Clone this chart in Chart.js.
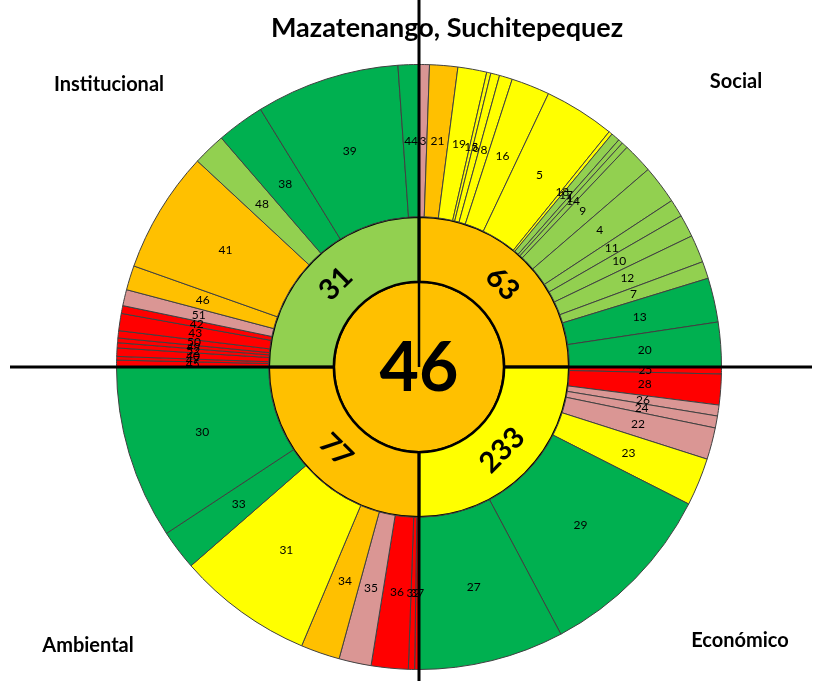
<!DOCTYPE html>
<html>
<head>
<meta charset="utf-8">
<script src="https://cdn.jsdelivr.net/npm/chart.js@4.4.1/dist/chart.umd.min.js"></script>
<style>
  html, body { margin: 0; padding: 0; background: #fff; }
  #wrap { width: 818px; height: 681px; position: relative; }
</style>
</head>
<body>
<div id="wrap"><canvas id="sunburst"></canvas></div>
<script>
// indicadores de cada dimension, en sentido horario desde arriba
const dimensions = ['Social', 'Económico', 'Ambiental', 'Institucional'];
const dimensionScores = [63, 233, 77, 31];
const dimensionLevels = ['naranja', 'amarillo', 'naranja', 'verdeClaro'];
const totalScore = 46;
const chartTitle = 'Mazatenango, Suchitepequez';

const socialIds    = [3, 21, 19, 15, 6, 8, 16, 5, 18, 17, 1, 14, 9, 4, 11, 10, 12, 7, 13, 20];
const socialValues = [2.0, 5.4, 5.55, 0.8, 1.7, 2.5, 7.4, 13.6, 0.7, 1.7, 0.9, 1.2, 5.8, 7.4, 3.4, 4.3, 5.3, 3.3, 8.5, 8.6];
const socialLevels = ['rosa', 'naranja', 'amarillo', 'amarillo', 'amarillo', 'amarillo', 'amarillo', 'amarillo', 'amarillo',
  'verdeClaro', 'verdeClaro', 'verdeClaro', 'verdeClaro', 'verdeClaro', 'verdeClaro', 'verdeClaro', 'verdeClaro', 'verdeClaro', 'verde', 'verde'];

const economicoIds    = [25, 28, 26, 24, 22, 23, 29, 27];
const economicoValues = [1.3, 5.9, 2.1, 2.3, 6.1, 9.2, 35.1, 28.0];
const economicoLevels = ['rojo', 'rojo', 'rosa', 'rosa', 'rosa', 'amarillo', 'verde', 'verde'];

const ambientalIds    = [37, 32, 36, 35, 34, 31, 33, 30];
const ambientalValues = [0.8, 1.2, 7.1, 6.2, 7.5, 26.1, 7.7, 33.4];
const ambientalLevels = ['rojo', 'rojo', 'rojo', 'rosa', 'naranja', 'amarillo', 'verde', 'verde'];

const institucionalIds    = [45, 47, 40, 52, 49, 50, 43, 42, 51, 46, 41, 48, 38, 39, 44];
const institucionalValues = [1.3, 0.7, 1.6, 1.0, 0.9, 1.4, 3.3, 1.5, 3.1, 4.7, 23.4, 6.3, 9.2, 27.6, 4.0];
const institucionalLevels = ['rojo', 'rojo', 'rojo', 'rojo', 'rojo', 'rojo', 'rojo', 'rojo', 'rosa', 'naranja', 'naranja',
  'verdeClaro', 'verde', 'verde', 'verde'];

const levelColors = {
  verde: '#00B050',
  verdeClaro: '#92D050',
  amarillo: '#FFFF00',
  naranja: '#FFC000',
  rosa: '#DA9694',
  rojo: '#FF0000'
};

const FONT = 'Lato, "Liberation Sans", sans-serif';

const groups = [
  [socialIds, socialValues, socialLevels],
  [economicoIds, economicoValues, economicoLevels],
  [ambientalIds, ambientalValues, ambientalLevels],
  [institucionalIds, institucionalValues, institucionalLevels]
];
const outerIds = groups.flatMap(g => g[0]);
const outerValues = groups.flatMap(g => g[1]);
const outerColors = groups.flatMap(g => g[2].map(l => levelColors[l]));
// cada dimension ocupa lo que suman sus indicadores
const innerValues = groups.map(g => g[1].reduce((a, b) => a + b, 0));

const labelsPlugin = {
  id: 'ringLabels',
  afterDatasetsDraw(chart) {
    const ctx = chart.ctx;
    const outer = chart.getDatasetMeta(0);
    const inner = chart.getDatasetMeta(1);
    const core = chart.getDatasetMeta(2).data[0];
    const cx = core.x, cy = core.y, r0 = core.outerRadius;

    ctx.save();
    // ejes en cruz
    ctx.strokeStyle = '#000';
    ctx.lineWidth = 3;
    ctx.beginPath();
    ctx.moveTo(10, cy); ctx.lineTo(cx - r0, cy);
    ctx.moveTo(cx + r0, cy); ctx.lineTo(chart.width - 6, cy);
    ctx.moveTo(cx, 0); ctx.lineTo(cx, cy - r0);
    ctx.moveTo(cx, cy + r0); ctx.lineTo(cx, chart.height);
    ctx.stroke();

    ctx.fillStyle = '#000';
    ctx.textAlign = 'center';
    ctx.textBaseline = 'middle';
    ctx.font = '12px ' + FONT;
    outer.data.forEach((arc, i) => {
      const p = arc.getCenterPoint();
      ctx.fillText(outerIds[i], p.x, p.y);
    });

    ctx.font = 'bold 29px ' + FONT;
    inner.data.forEach((arc, i) => {
      const p = arc.getCenterPoint();
      let rot = (arc.startAngle + arc.endAngle) / 2 + Math.PI / 2;
      rot = Math.atan2(Math.sin(rot), Math.cos(rot));
      if (rot > Math.PI / 2) rot -= Math.PI;
      if (rot < -Math.PI / 2) rot += Math.PI;
      ctx.save();
      ctx.translate(p.x, p.y);
      ctx.rotate(rot);
      ctx.fillText(dimensionScores[i], 0, 0);
      ctx.restore();
    });

    ctx.font = 'bold 68px ' + FONT;
    ctx.fillText(totalScore, cx, cy + 2);

    // titulo y nombres de las dimensiones en las esquinas
    ctx.font = 'bold 27px ' + FONT;
    ctx.fillText(chartTitle, 447, 28);
    ctx.font = 'bold 20px ' + FONT;
    ctx.fillText(dimensions[0], 736, 82);
    ctx.fillText(dimensions[1], 740, 641);
    ctx.fillText(dimensions[2], 88, 646);
    ctx.fillText(dimensions[3], 109, 85);
    ctx.restore();
  }
};

new Chart(document.getElementById('sunburst'), {
  type: 'doughnut',
  data: {
    labels: outerIds.map(String),
    datasets: [
      {
        data: outerValues,
        backgroundColor: outerColors,
        borderColor: '#404040',
        borderWidth: 1,
        weight: 152
      },
      {
        data: innerValues,
        backgroundColor: dimensionLevels.map(l => levelColors[l]),
        borderColor: '#000',
        borderWidth: 2.5,
        weight: 65
      },
      {
        data: [1],
        backgroundColor: [levelColors.naranja],
        borderColor: '#000',
        borderWidth: 2.5,
        weight: 85
      }
    ]
  },
  options: {
    responsive: true,
    maintainAspectRatio: false,
    animation: false,
    cutout: 0,
    layout: { padding: { left: 116, right: 96, top: 64, bottom: 11 } },
    plugins: {
      legend: { display: false },
      tooltip: { enabled: false },
      title: { display: false }
    }
  },
  plugins: [labelsPlugin]
});
</script>
</body>
</html>
